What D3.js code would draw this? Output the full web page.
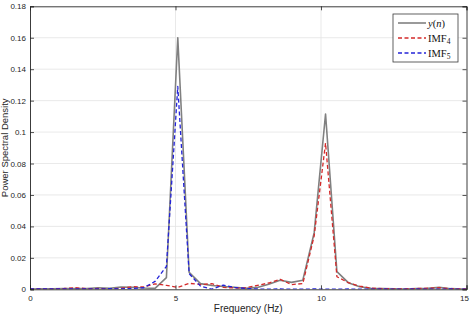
<!DOCTYPE html>
<html><head><meta charset="utf-8">
<script src="https://cdn.jsdelivr.net/npm/d3@7"></script>
<style>body{margin:0;background:#fff}svg{display:block}</style>
</head><body>
<script>
// frequency bins (Hz): k * 100/256
const freqs = d3.range(40).map(k => k * 100 / 256);
const yn   = [0.0002,0.0003,0.0003,0.0004,0.0005,0.0004,0.0010,0.0006,0.0015,0.0012,
              0.0008,0.0006,0.0074,0.1600,0.0108,0.0036,0.0024,0.0018,0.0012,0.0006,
              0.0012,0.0032,0.0058,0.0044,0.0058,0.0360,0.1115,0.0112,0.0042,0.0016,
              0.0006,0.0004,0.0003,0.0002,0.0004,0.0006,0.0012,0.0004,0.0001,0.0001];
const imf4 = [0.0002,0.0002,0.0003,0.0005,0.0010,0.0004,0.0005,0.0003,0.0006,0.0017,
              0.0015,0.0035,0.0025,0.0012,0.0038,0.0030,0.0036,0.0012,0.0008,0.0010,
              0.0025,0.0040,0.0064,0.0030,0.0036,0.0340,0.0930,0.0080,0.0042,0.0020,
              0.0008,0.0004,0.0003,0.0003,0.0005,0.0007,0.0010,0.0004,0.0002,0.0002];
const imf5 = [0.0002,0.0003,0.0002,0.0003,0.0002,0.0003,0.0002,0.0004,0.0003,0.0005,
              0.0010,0.0050,0.0145,0.1290,0.0100,0.0020,0.0001,0.0027,0.0012,0.0005,
              0.0002,0.0001,0.0002,0.0001,0.0001,0.0002,0.0001,0.0001,0.0002,0.0001,
              0.0001,0.0002,0.0001,0.0001,0.0002,0.0001,0.0001,0.0002,0.0001,0.0001];
const xTicks = [0, 5, 10, 15];
const yTicks = [0, 0.02, 0.04, 0.06, 0.08, 0.1, 0.12, 0.14, 0.16, 0.18];

const W = 470, H = 315;
const m = {l: 30, r: 3.5, t: 6.3, b: 25.7};
const svg = d3.select("body").append("svg").attr("width", W).attr("height", H);
const x = d3.scaleLinear().domain([0, 15]).range([m.l, W - m.r]);
const y = d3.scaleLinear().domain([0, 0.18]).range([H - m.b, m.t]);
const font = "'Liberation Sans', Arial, Helvetica, sans-serif";
const axisCol = "#262626";

// grid
const g = svg.append("g");
g.selectAll(".gy").data(yTicks.slice(1, -1)).join("line")
  .attr("x1", x(0)).attr("x2", x(15)).attr("y1", d => y(d)).attr("y2", d => y(d))
  .attr("stroke", "#e3e3e3").attr("stroke-width", 0.8);
g.selectAll(".gx").data(xTicks.slice(1, -1)).join("line")
  .attr("y1", y(0)).attr("y2", y(0.18)).attr("x1", d => x(d)).attr("x2", d => x(d))
  .attr("stroke", "#e3e3e3").attr("stroke-width", 0.8);

// lines
svg.append("defs").append("clipPath").attr("id", "clip").append("rect")
  .attr("x", x(0)).attr("y", y(0.18)).attr("width", x(15) - x(0)).attr("height", y(0) - y(0.18));
const line = d3.line().x((d, i) => x(freqs[i])).y(d => y(d));
const series = [
  {data: yn, color: "#808080", width: 1.6, dash: null},
  {data: imf4, color: "#d42a2a", width: 1.3, dash: "4,2.5"},
  {data: imf5, color: "#2323d8", width: 1.3, dash: "4,2.5"}
];
const lg = svg.append("g").attr("clip-path", "url(#clip)");
series.forEach(s => {
  lg.append("path").datum(s.data).attr("d", line).attr("fill", "none")
    .attr("stroke", s.color).attr("stroke-width", s.width)
    .attr("stroke-dasharray", s.dash).attr("stroke-linejoin", "round");
});

// axes (MATLAB box, inward ticks)
const axB = d3.axisBottom(x).tickValues(xTicks).tickSize(-4).tickPadding(6).tickFormat(d3.format("d"));
const axT = d3.axisTop(x).tickValues(xTicks).tickSize(-4).tickFormat("");
const axL = d3.axisLeft(y).tickValues(yTicks).tickSize(-4).tickPadding(4).tickFormat(d => d === 0 ? "0" : d3.format("")(+d.toFixed(2)));
const axR = d3.axisRight(y).tickValues(yTicks).tickSize(-4).tickFormat("");
function style(sel) {
  sel.select(".domain").attr("stroke", axisCol).attr("stroke-width", 0.9);
  sel.selectAll(".tick line").attr("stroke", axisCol).attr("stroke-width", 0.8);
  sel.selectAll("text").attr("fill", axisCol).style("font-family", font).style("font-size", "8px");
}
const bottomAxis = svg.append("g").attr("transform", `translate(0,${y(0)})`).call(axB).call(style);
bottomAxis.selectAll(".tick text").filter(d => d === 15).attr("dx", -2.5);
svg.append("g").attr("transform", `translate(0,${y(0.18)})`).call(axT).call(style);
svg.append("g").attr("transform", `translate(${x(0)},0)`).call(axL).call(style);
svg.append("g").attr("transform", `translate(${x(15)},0)`).call(axR).call(style);

// axis titles
svg.append("text").attr("x", (x(0) + x(15)) / 2).attr("y", 311.5).attr("text-anchor", "middle")
  .style("font-family", font).style("font-size", "10px").attr("fill", axisCol).text("Frequency (Hz)");
svg.append("text").attr("transform", `translate(8,${(y(0) + y(0.18)) / 2}) rotate(-90)`)
  .attr("text-anchor", "middle").style("font-family", font).style("font-size", "9.5px")
  .attr("fill", axisCol).text("Power Spectral Density");

// legend
const leg = svg.append("g");
const lx = 393, ly = 14, lw = 65, lh = 48;
leg.append("rect").attr("x", lx).attr("y", ly).attr("width", lw).attr("height", lh)
  .attr("fill", "#fff").attr("stroke", "#3a3a3a").attr("stroke-width", 0.8);
const serif = "'Liberation Serif', 'DejaVu Serif', serif";
const rows = [{s: series[0], label: "y(n)"}, {s: series[1], label: "IMF", sub: "4"}, {s: series[2], label: "IMF", sub: "5"}];
rows.forEach((r, i) => {
  const yy = ly + 9 + i * 15;
  leg.append("line").attr("x1", 398).attr("x2", 426).attr("y1", yy).attr("y2", yy)
    .attr("stroke", r.s.color).attr("stroke-width", r.s.width).attr("stroke-dasharray", r.s.dash);
  const t = leg.append("text").attr("x", 428).attr("y", yy + 3.5)
    .style("font-family", serif).style("font-size", "10.5px").attr("fill", "#111");
  if (r.sub) {
    t.append("tspan").text(r.label);
    t.append("tspan").attr("dy", 2.5).style("font-size", "7.5px").text(r.sub);
  } else {
    t.append("tspan").style("font-style", "italic").text("y");
    t.append("tspan").text("(");
    t.append("tspan").style("font-style", "italic").text("n");
    t.append("tspan").text(")");
  }
});
</script>
</body></html>
